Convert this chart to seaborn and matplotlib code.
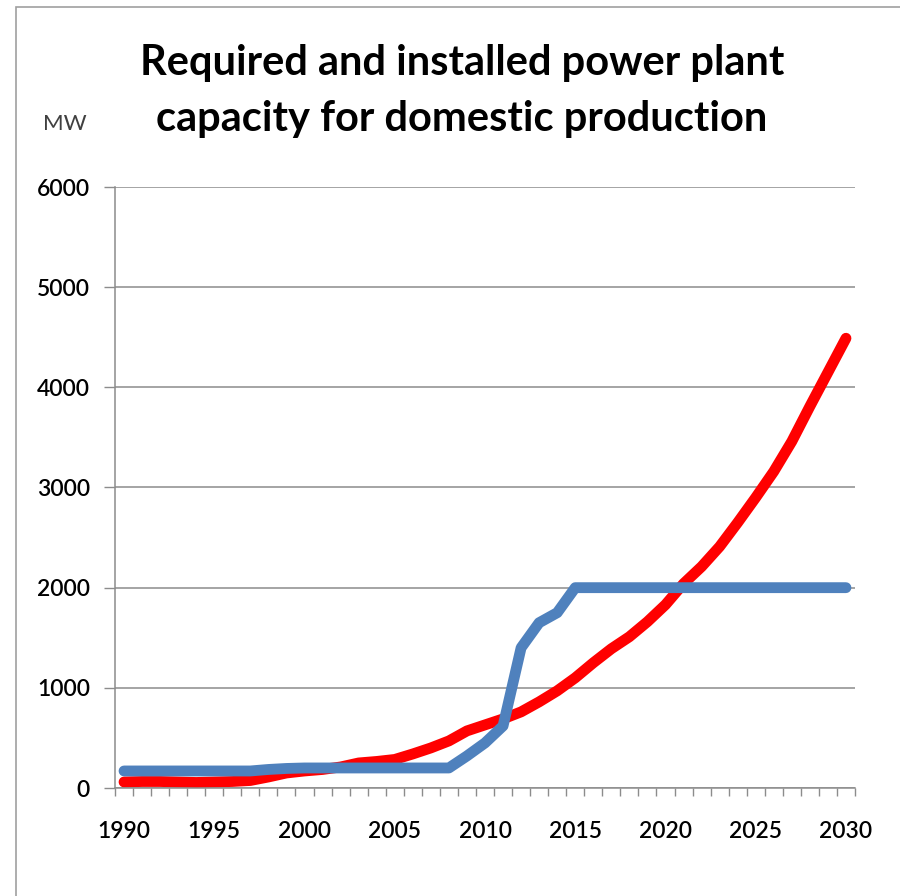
import matplotlib
matplotlib.use("Agg")
import pandas as pd
import matplotlib.pyplot as plt
import seaborn as sns
from matplotlib.patches import Rectangle
from matplotlib.ticker import FixedLocator, MultipleLocator

# -----------------------------
# Data
# -----------------------------
years = list(range(1990, 2031))

required_mw = [
    60, 65, 65, 60, 55, 60, 65, 75, 110, 150,          # 1990-1999
    170, 185, 210, 250, 265, 285, 340, 400, 470, 570,  # 2000-2009
    630, 690, 760, 860, 970, 1100, 1250, 1390, 1510, 1660,  # 2010-2019
    1830, 2040, 2210, 2410, 2650, 2900, 3160, 3460, 3810, 4150,  # 2020-2029
    4490,                                              # 2030
]

installed_mw = [
    170, 170, 170, 170, 170, 170, 170, 170, 185, 195,  # 1990-1999
    200, 200, 200, 200, 200, 200, 200, 200, 200, 320,  # 2000-2009
    450, 620, 1400, 1650, 1750, 2000, 2000, 2000, 2000, 2000,  # 2010-2019
    2000, 2000, 2000, 2000, 2000, 2000, 2000, 2000, 2000, 2000,  # 2020-2029
    2000,                                              # 2030
]

series_names = ["Required", "Installed"]
series_colors = {"Required": "#FF0000", "Installed": "#4F81BD"}
y_ticks = [0, 1000, 2000, 3000, 4000, 5000, 6000]
x_label_years = [1990, 1995, 2000, 2005, 2010, 2015, 2020, 2025, 2030]

df = pd.DataFrame({
    "year": years * 2,
    "mw": required_mw + installed_mw,
    "series": ["Required"] * len(years) + ["Installed"] * len(years),
})

# -----------------------------
# Style
# -----------------------------
sns.set_style("white")
plt.rcParams["font.family"] = ["Lato", "DejaVu Sans"]

GRID = "#8c8c8c"

fig = plt.figure(figsize=(9, 8.96), dpi=100)
ax = fig.add_axes([115 / 900, 108 / 896, 740 / 900, 601 / 896])

sns.lineplot(data=df, x="year", y="mw", hue="series", hue_order=series_names,
             palette=series_colors, linewidth=7.8, legend=False, ax=ax,
             solid_capstyle="round", solid_joinstyle="round")

# axes like an Excel category chart
ax.set_xlim(1989.5, 2030.5)
ax.set_ylim(0, 6000)
ax.set_xlabel("")
ax.set_ylabel("")

ax.yaxis.set_major_locator(FixedLocator(y_ticks))
ax.set_yticklabels([str(v) for v in y_ticks])
ax.yaxis.grid(True, color=GRID, linewidth=1.1)
ax.xaxis.grid(False)
ax.set_axisbelow(True)

ax.xaxis.set_major_locator(FixedLocator(x_label_years))
ax.set_xticklabels([str(y) for y in x_label_years])
ax.xaxis.set_minor_locator(MultipleLocator(1, offset=0.5))

ax.tick_params(axis="y", which="major", direction="out", left=True, length=8,
               width=1, color=GRID, pad=10, labelsize=16.5, labelcolor="black")
ax.tick_params(axis="x", which="major", bottom=True, length=0, pad=24,
               labelsize=16.5, labelcolor="black")
ax.tick_params(axis="x", which="minor", bottom=True, direction="out", length=6,
               width=1, color=GRID)
for lab in ax.get_xticklabels() + ax.get_yticklabels():
    lab.set_fontweight("semibold")

for side in ["top", "right"]:
    ax.spines[side].set_visible(False)
for side in ["left", "bottom"]:
    ax.spines[side].set_color(GRID)
    ax.spines[side].set_linewidth(1.1)

# -----------------------------
# Title, unit and frame
# -----------------------------
fig.text(462 / 900, 1 - 75 / 896, "Required and installed power plant",
         ha="center", va="baseline", fontsize=30, fontweight="bold", color="black")
fig.text(462 / 900, 1 - 131 / 896, "capacity for domestic production",
         ha="center", va="baseline", fontsize=30, fontweight="bold", color="black")
fig.text(43 / 900, 1 - 130 / 896, "MW", ha="left", va="baseline",
         fontsize=16, color="#404040")

fig.add_artist(Rectangle((16 / 900, -0.1), 2, (889 / 896) + 0.1,
                         transform=fig.transFigure, fill=False,
                         edgecolor="#a0a0a0", linewidth=1.2))

fig.savefig("out.png", dpi=100)
